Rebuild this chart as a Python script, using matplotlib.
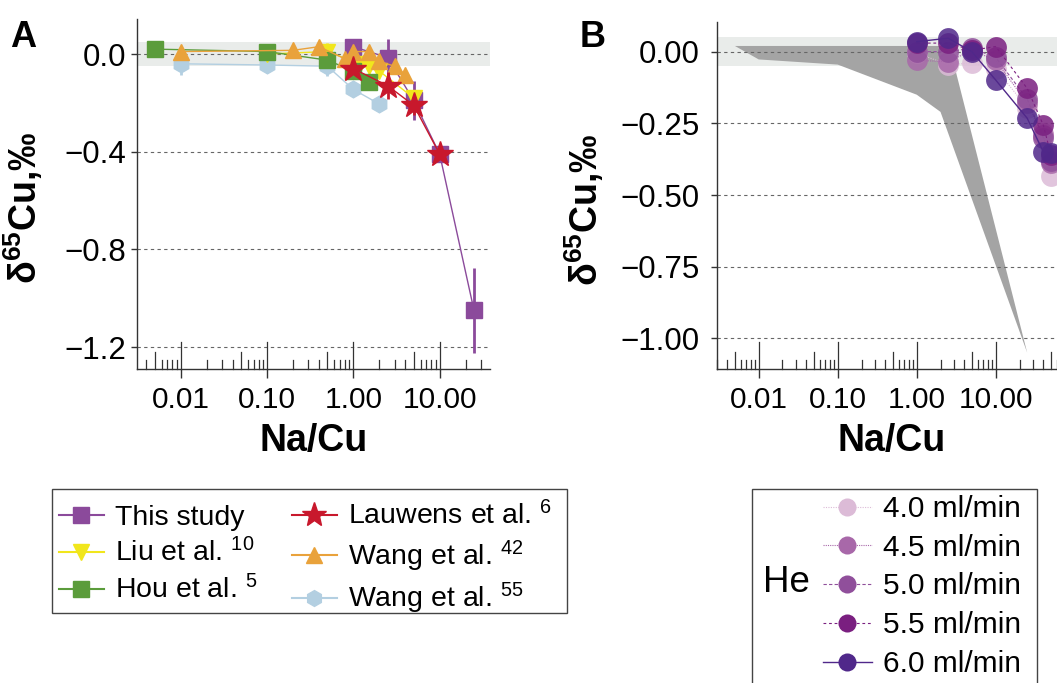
import numpy as np
import matplotlib
matplotlib.use('Agg')
import matplotlib.pyplot as plt
import matplotlib.transforms as mtransforms
from matplotlib.lines import Line2D
from matplotlib.patches import Rectangle
from matplotlib.ticker import NullLocator

plt.rcParams['font.family'] = ['Liberation Sans', 'DejaVu Sans']
plt.rcParams['mathtext.fontset'] = 'custom'
plt.rcParams['mathtext.rm'] = 'Liberation Sans'
plt.rcParams['mathtext.it'] = 'Liberation Sans:italic'
plt.rcParams['mathtext.bf'] = 'Liberation Sans:bold'

# =============================================================================
# data, panel A (literature comparison)
# =============================================================================
study_x = [1, 2.5, 5, 10, 25]
study_y = [0.03, -0.015, -0.19, -0.41, -1.05]
study_err = [0.02, 0.075, 0.08, 0.03, 0.175]

liu_x = [0.1, 0.5, 1.2, 1.5, 2.0, 5.0]
liu_y = [0.0, 0.01, -0.04, -0.05, -0.07, -0.18]
liu_err = [0.01, 0.035, 0.01, 0.01, 0.01, 0.02]

hou_x = [0.005, 0.1, 0.5, 1.0, 1.5]
hou_y = [0.02, 0.01, -0.025, -0.07, -0.115]
hou_err = [0.01, 0.01, 0.01, 0.01, 0.01]

lauwens_x = [1.0, 2.5, 5.0, 10.0]
lauwens_y = [-0.06, -0.13, -0.21, -0.41]
lauwens_err = [0.01, 0.055, 0.04, 0.02]

wang42_x = [0.01, 0.2, 0.4, 0.8, 1.0, 1.5, 2.0, 3.0, 4.0]
wang42_y = [0.01, 0.015, 0.03, -0.02, 0.01, 0.01, -0.03, -0.05, -0.085]
wang42_err = [0.01, 0.01, 0.01, 0.01, 0.01, 0.01, 0.01, 0.01, 0.01]

wang55_x = [0.01, 0.1, 0.5, 1.0, 2.0]
wang55_y = [-0.04, -0.045, -0.05, -0.145, -0.205]
wang55_err = [0.045, 0.01, 0.04, 0.02, 0.01]

# =============================================================================
# data, panel B (He flow rate)
# =============================================================================
he_x = [1, 2.5, 5, 10, 25, 40, 50]
he_40 = [-0.005, -0.045, -0.04, -0.06, -0.195, -0.285, -0.435]
he_45 = [-0.03, -0.035, 0.005, -0.03, -0.18, -0.29, -0.39]
he_50 = [0.0, 0.0, 0.012, -0.02, -0.165, -0.30, -0.38]
he_55 = [0.03, 0.03, 0.005, 0.018, -0.128, -0.256, -0.36]
he_60 = [0.035, 0.047, 0.0, -0.099, -0.232, -0.349, -0.355]

# literature envelope (grey area in B)
band_up_x = [0.005, 0.01, 0.1, 1.0, 2.5, 3.0, 25]
band_up_y = [0.02, 0.02, 0.02, 0.02, 0.02, -0.05, -1.05]
band_lo_x = [0.005, 0.01, 0.1, 1.0, 2.0, 25]
band_lo_y = [0.02, -0.027, -0.045, -0.15, -0.21, -1.05]

W, H = 1057, 683
fig = plt.figure(figsize=(W / 100, H / 100), dpi=100)

axA = fig.add_axes([137 / W, 1 - 369 / H, 353 / W, 350 / H])
axB = fig.add_axes([717 / W, 1 - 369 / H, 350 / W, 347 / H])


def fmt(v, nd):
    return ('%.' + str(nd) + 'f') % v


def style_axis(ax, xlim, ylim, yticks, ynd, ypad, ylab_x):
    ax.set_xscale('log')
    ax.set_xlim(xlim)
    ax.set_ylim(ylim)
    ax.axhspan(-0.05, 0.05, color='#e9ecea', zorder=0, lw=0)
    for yt in yticks:
        ax.axhline(yt, color='#666666', lw=0.8, ls=(0, (3, 3)), zorder=1.5)
    ax.set_yticks(yticks)
    ax.set_yticklabels([fmt(t, ynd).replace('-', '\u2212') for t in yticks])
    ax.set_xticks([0.01, 0.1, 1, 10])
    ax.set_xticklabels(['0.01', '0.10', '1.00', '10.00'])
    ax.xaxis.set_minor_locator(NullLocator())
    for s in ['top', 'right']:
        ax.spines[s].set_visible(False)
    for s in ['left', 'bottom']:
        ax.spines[s].set_color('#333333')
        ax.spines[s].set_linewidth(1.0)
    ax.tick_params(axis='x', direction='out', length=6.5, width=1.0,
                   color='#333333', labelsize=21.5, pad=6)
    ax.tick_params(axis='y', direction='out', length=4.5, width=1.0,
                   color='#333333', labelsize=22.5, pad=ypad)
    # log ticks drawn inside the panel
    trans = mtransforms.blended_transform_factory(ax.transData, ax.transAxes)
    hpx = ax.get_position().height * H
    for dec in range(-3, 2):
        for m in range(1, 10):
            v = m * 10.0 ** dec
            if v < xlim[0] or v > xlim[1]:
                continue
            L = 27.5 if m == 1 else (17.5 if m == 5 else 9.0)
            ax.plot([v, v], [0, L / hpx], transform=trans, color='#333333',
                    lw=0.9, clip_on=False, zorder=3)
    ax.set_xlabel('Na/Cu', fontsize=27, fontweight='bold')
    ax.xaxis.set_label_coords(0.5, -0.155)
    ax.xaxis.label.set_va('top')
    ax.set_ylabel(r'$\mathregular{\delta^{65}}$Cu,‰', fontsize=27,
                  fontweight='bold')
    ax.yaxis.set_label_coords(ylab_x, 0.46)


style_axis(axA, (10 ** -2.506, 10 ** 1.583), (-1.2897, 0.1433),
           [0.0, -0.4, -0.8, -1.2], 1, 3, -0.262)
style_axis(axB, (10 ** -2.528, 10 ** 1.902), (-1.107, 0.1036),
           [0.0, -0.25, -0.5, -0.75, -1.0], 2, 8, -0.318)

# =============================================================================
# panel A
# =============================================================================
series_A = [
    ('This study', study_x, study_y, study_err, '#8b4a9b', 's', 12),
    ('Wang et al. $^{55}$', wang55_x, wang55_y, wang55_err, '#b3cfe1', 'h', 12),
    ('Liu et al. $^{10}$', liu_x, liu_y, liu_err, '#f1e61c', 'v', 12),
    ('Hou et al. $^{5}$', hou_x, hou_y, hou_err, '#5b9c3b', 's', 12),
    ('Wang et al. $^{42}$', wang42_x, wang42_y, wang42_err, '#e9a23b', '^', 12),
    ('Lauwens et al. $^{6}$', lauwens_x, lauwens_y, lauwens_err, '#c8182c', '*', 19),
]
handlesA = {}
for z, (lab, xs, ys, es, col, mk, ms) in enumerate(series_A):
    axA.errorbar(xs, ys, yerr=es, color=col, lw=1.0, elinewidth=2.0,
                 capsize=0, marker=mk, ms=ms, mec=col, zorder=4 + z)
    handlesA[lab] = Line2D([], [], color=col, lw=1.5, marker=mk,
                           ms=ms * 0.95, mec=col)

orderA = ['This study', 'Liu et al. $^{10}$', 'Hou et al. $^{5}$',
          'Lauwens et al. $^{6}$', 'Wang et al. $^{42}$', 'Wang et al. $^{55}$']
fig.patches.append(Rectangle((52 / W, 1 - 613 / H), (567 - 52) / W,
                             (613 - 489) / H, transform=fig.transFigure,
                             fill=False, edgecolor='#444444', lw=1.0))
fig.legend([handlesA[k] for k in orderA], orderA, ncol=2,
           loc='upper left', bbox_to_anchor=(59 / W, 1 - 501.5 / H),
           bbox_transform=fig.transFigure, fontsize=20.5,
           frameon=False, borderaxespad=0, borderpad=0,
           handlelength=1.58, handletextpad=0.39,
           columnspacing=1.2, labelspacing=0.27)

# =============================================================================
# panel B
# =============================================================================
axB.fill(band_up_x + band_lo_x[::-1], band_up_y + band_lo_y[::-1],
         color='#a4a4a4', lw=0, zorder=1)

series_B = [
    ('4.0 ml/min', he_40, '#dcbbd7', (0, (1, 1.2)), 0.8),
    ('4.5 ml/min', he_45, '#a868a9', (0, (1, 1)), 0.8),
    ('5.0 ml/min', he_50, '#904f9b', (0, (3, 2)), 0.8),
    ('5.5 ml/min', he_55, '#7a1f80', (0, (2.5, 2.5)), 0.8),
    ('6.0 ml/min', he_60, '#50288a', '-', 1.0),
]
handlesB = []
for z, (lab, ys, col, ls, lw) in enumerate(series_B):
    axB.plot(he_x, ys, color=col, ls=ls, lw=lw, zorder=4 + z)
    axB.plot(he_x, ys, ls='none', marker='o', ms=15, color=col, mec='none',
             alpha=0.85, zorder=4 + z)
    handlesB.append(Line2D([], [], color=col, ls=ls, lw=lw, marker='o',
                           ms=13, mec='none'))

fig.patches.append(Rectangle((752 / W, -0.05), (1037 - 752) / W,
                             1 - 489 / H + 0.05, transform=fig.transFigure,
                             fill=False, edgecolor='#444444', lw=1.0))
fig.legend(handlesB, [s[0] for s in series_B], loc='upper left',
           bbox_to_anchor=(823 / W, 1 - 495 / H),
           bbox_transform=fig.transFigure, fontsize=21.5, frameon=False,
           borderaxespad=0, borderpad=0, handlelength=1.63,
           handletextpad=0.37, labelspacing=0.36)
fig.text(763 / W, 1 - 583 / H, 'He', fontsize=26.5, ha='left', va='center')

# panel letters
fig.text(10 / W, 1 - 20 / H, 'A', fontsize=26, fontweight='bold',
         ha='left', va='top')
fig.text(580 / W, 1 - 20 / H, 'B', fontsize=26, fontweight='bold',
         ha='left', va='top')

fig.savefig('out.png', dpi=100)
